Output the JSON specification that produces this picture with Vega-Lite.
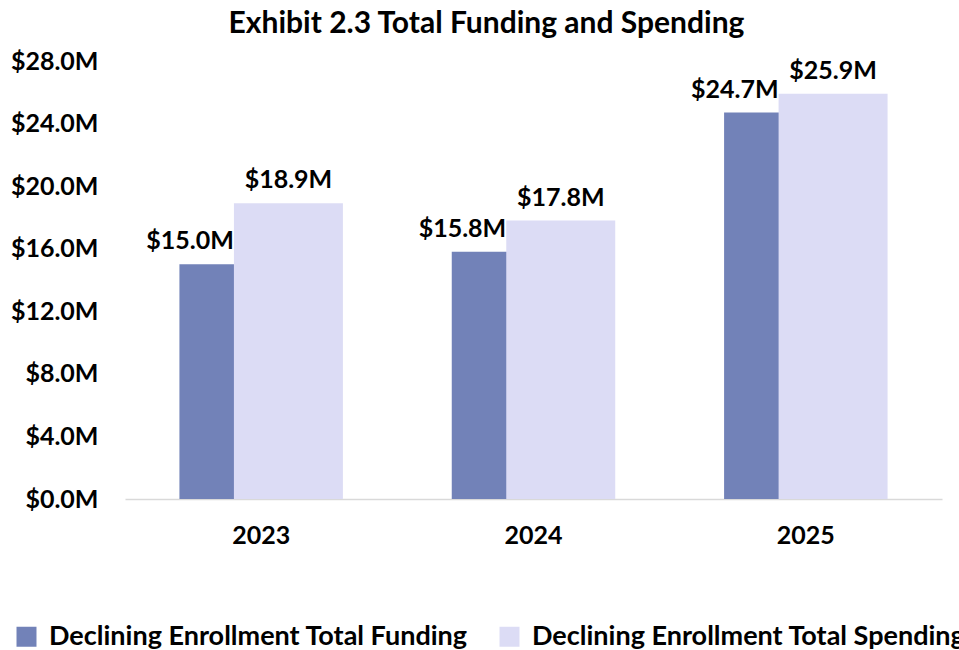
{
  "$schema": "https://vega.github.io/schema/vega-lite/v6.json",
  "autosize": {"type": "none"},
  "width": 817,
  "height": 438,
  "padding": {"left": 125, "top": 61, "right": 17, "bottom": 151},
  "background": "white",
  "view": {"stroke": null},
  "title": {
    "text": "Exhibit 2.3 Total Funding and Spending",
    "font": "Lato",
    "fontSize": 30,
    "fontWeight": "bold",
    "color": "#000000",
    "anchor": "middle",
    "dx": -47,
    "offset": 10
  },
  "data": {
    "values": [
      {"year": "2023", "series": "Declining Enrollment Total Funding", "value": 15.0},
      {"year": "2023", "series": "Declining Enrollment Total Spending", "value": 18.9},
      {"year": "2024", "series": "Declining Enrollment Total Funding", "value": 15.8},
      {"year": "2024", "series": "Declining Enrollment Total Spending", "value": 17.8},
      {"year": "2025", "series": "Declining Enrollment Total Funding", "value": 24.7},
      {"year": "2025", "series": "Declining Enrollment Total Spending", "value": 25.9}
    ]
  },
  "encoding": {
    "x": {
      "field": "year",
      "type": "nominal",
      "scale": {"paddingInner": 0.4, "paddingOuter": 0.2},
      "axis": {
        "title": null,
        "labelAngle": 0,
        "ticks": false,
        "domainColor": "#d9d9d9",
        "domainWidth": 1.5,
        "labelFont": "Lato",
        "labelFontSize": 25,
        "labelFontWeight": "bold",
        "labelColor": "#000000",
        "labelPadding": 24
      }
    },
    "y": {
      "field": "value",
      "type": "quantitative",
      "scale": {"domain": [0, 28], "nice": false},
      "axis": {
        "title": null,
        "values": [0, 4, 8, 12, 16, 20, 24, 28],
        "labelExpr": "'$' + format(datum.value, '.1f') + 'M'",
        "grid": false,
        "ticks": false,
        "domain": false,
        "labelFont": "Lato",
        "labelFontSize": 25,
        "labelFontWeight": "bold",
        "labelColor": "#000000",
        "labelPadding": 27
      }
    },
    "color": {
      "field": "series",
      "type": "nominal",
      "scale": {
        "domain": ["Declining Enrollment Total Funding", "Declining Enrollment Total Spending"],
        "range": ["#7282b8", "#dcdcf5"]
      },
      "legend": {
        "title": null,
        "orient": "none",
        "direction": "horizontal",
        "legendX": -112,
        "legendY": 562,
        "symbolType": "square",
        "symbolSize": 400,
        "symbolStrokeWidth": 0,
        "labelFont": "Lato",
        "labelFontSize": 27,
        "labelFontWeight": "bold",
        "labelColor": "#000000",
        "labelOffset": 9,
        "labelLimit": 700,
        "columnPadding": 28
      }
    }
  },
  "layer": [
    {
      "transform": [{"filter": "datum.series === 'Declining Enrollment Total Funding'"}],
      "mark": {"type": "bar", "width": {"band": 0.667}, "xOffset": -27.25}
    },
    {
      "transform": [{"filter": "datum.series === 'Declining Enrollment Total Spending'"}],
      "mark": {"type": "bar", "width": {"band": 0.667}, "xOffset": 27.25}
    },
    {
      "transform": [{"filter": "datum.series === 'Declining Enrollment Total Funding'"}],
      "mark": {"type": "text", "font": "Lato", "fontSize": 25, "fontWeight": "bold", "align": "right", "baseline": "alphabetic", "xOffset": -27.25, "dx": 0, "dy": -15, "text": {"expr": "'$' + format(datum.value, '.1f') + 'M'"}},
      "encoding": {
        "color": {"value": "#000000"}
      }
    },
    {
      "transform": [{"filter": "datum.series === 'Declining Enrollment Total Spending'"}],
      "mark": {"type": "text", "font": "Lato", "fontSize": 25, "fontWeight": "bold", "align": "center", "baseline": "alphabetic", "xOffset": 27.25, "dy": -15, "text": {"expr": "'$' + format(datum.value, '.1f') + 'M'"}},
      "encoding": {
        "color": {"value": "#000000"}
      }
    }
  ]
}
